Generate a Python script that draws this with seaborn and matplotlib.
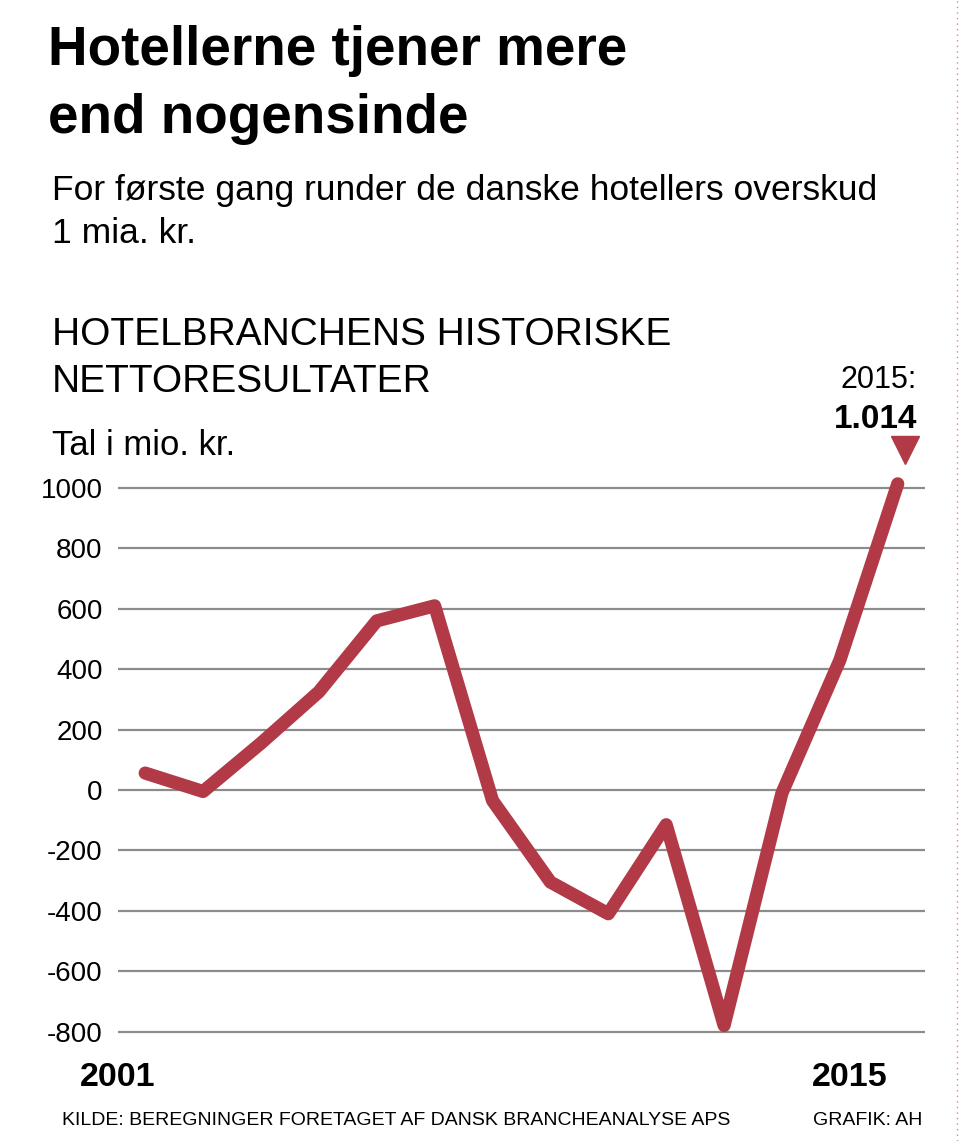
import numpy as np
import pandas as pd
import matplotlib
matplotlib.use("Agg")
import matplotlib.pyplot as plt
import seaborn as sns
from matplotlib.lines import Line2D

# data (mio. kr.)
years = [2002, 2003, 2004, 2005, 2006, 2007, 2008, 2009, 2010, 2011, 2012, 2013, 2014, 2015]
result = [56, -5, 155, 325, 560, 610, -35, -305, -410, -115, -780, -10, 430, 1014]
yticks = [1000, 800, 600, 400, 200, 0, -200, -400, -600, -800]

red = "#b23a47"
grey = "#8c8c8c"

sns.set_theme(style="white")
plt.rcParams['font.family'] = ['Liberation Sans', 'DejaVu Sans']
plt.rcParams['text.color'] = 'black'
plt.rcParams['ytick.color'] = 'black'

df = pd.DataFrame({"idx": np.arange(len(years)), "year": years, "val": result})

fig = plt.figure(figsize=(9.6, 11.41), dpi=100)
ax = fig.add_axes([0.1229, 0.0827, 0.8406, 0.5028])

for t in yticks:
    ax.axhline(t, color=grey, lw=1.6, zorder=1)

sns.lineplot(data=df, x="idx", y="val", color=red, lw=9.5, ax=ax,
             solid_capstyle="round", solid_joinstyle="round", zorder=3)

ax.set_xlim(-0.47, 13.47)
ax.set_ylim(-850, 1050)
ax.set_yticks(yticks)
ax.set_yticklabels([str(t) for t in yticks], fontsize=20)
ax.tick_params(axis="y", length=0, pad=11)
ax.set_xticks([])
ax.set_xlabel("")
ax.set_ylabel("")
for s in ax.spines.values():
    s.set_visible(False)

# end marker + label
ax.plot([13.13], [1125], marker="v", ms=20, color=red, clip_on=False, zorder=4)
ax.text(13.33, 1331, "2015:", ha="right", va="baseline", fontsize=22)
ax.text(13.33, 1199, "1.014", ha="right", va="baseline", fontsize=24, fontweight="bold")

# x end labels
fig.text(118 / 960, 1 - 1086 / 1141, "2001", ha="center", va="baseline",
         fontsize=24.5, fontweight="bold")
fig.text(850 / 960, 1 - 1086 / 1141, "2015", ha="center", va="baseline",
         fontsize=24.5, fontweight="bold")

# titles
fig.text(48 / 960, 1 - 65 / 1141, "Hotellerne tjener mere", fontsize=39.5,
         fontweight="bold", va="baseline")
fig.text(48 / 960, 1 - 133 / 1141, "end nogensinde", fontsize=39.5,
         fontweight="bold", va="baseline")
fig.text(52 / 960, 1 - 200 / 1141, "For første gang runder de danske hotellers overskud",
         fontsize=25.5, va="baseline")
fig.text(52 / 960, 1 - 243 / 1141, "1 mia. kr.", fontsize=25.5, va="baseline")
fig.text(52 / 960, 1 - 345 / 1141, "HOTELBRANCHENS HISTORISKE", fontsize=28, va="baseline")
fig.text(52 / 960, 1 - 392 / 1141, "NETTORESULTATER", fontsize=28, va="baseline")
fig.text(52 / 960, 1 - 455 / 1141, "Tal i mio. kr.", fontsize=25, va="baseline")

# footer
fig.text(62 / 960, 1 - 1125 / 1141, "KILDE: BEREGNINGER FORETAGET AF DANSK BRANCHEANALYSE APS",
         fontsize=14, va="baseline")
fig.text(922 / 960, 1 - 1125 / 1141, "GRAFIK: AH", fontsize=14, va="baseline", ha="right")

# dotted border at right edge
fig.add_artist(Line2D([957 / 960, 957 / 960], [0, 1], color="#d88", lw=1,
                      ls=(0, (1, 3)), transform=fig.transFigure))

fig.savefig("out.png", dpi=100)
